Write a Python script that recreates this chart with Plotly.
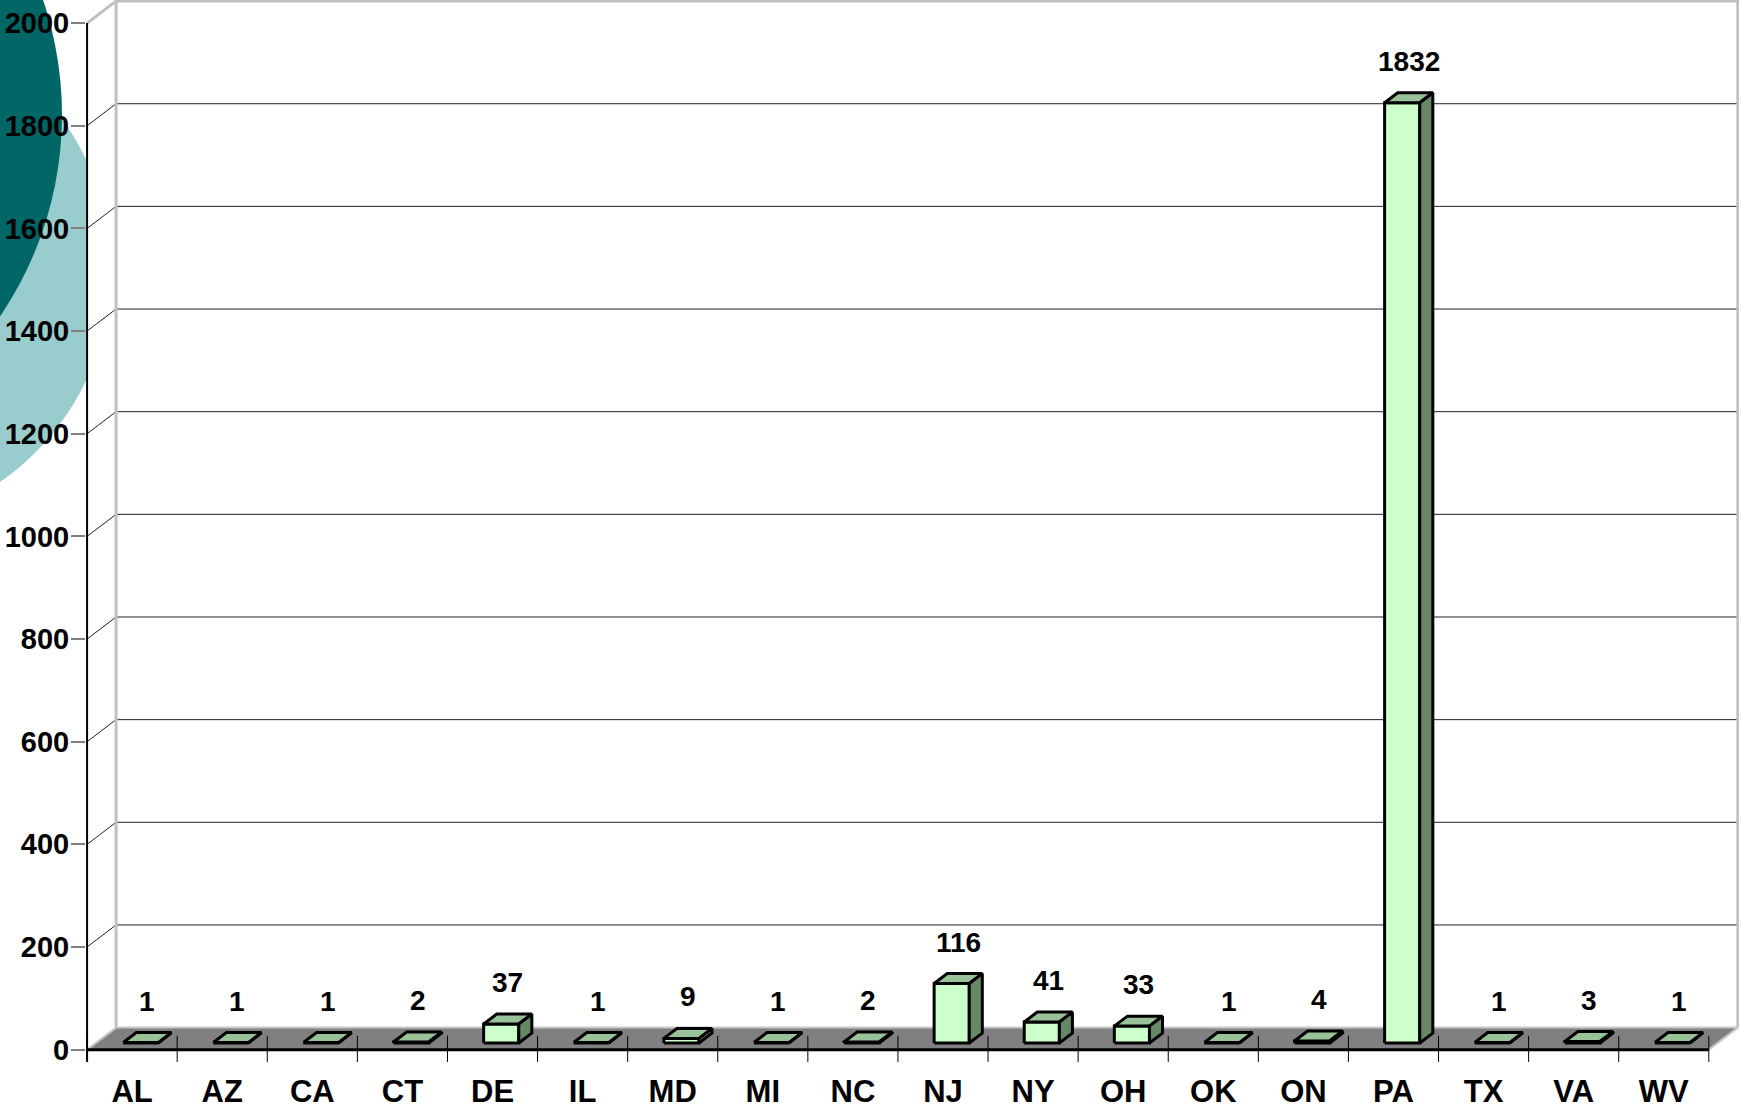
import plotly.graph_objects as go

# data
states = ["AL", "AZ", "CA", "CT", "DE", "IL", "MD", "MI", "NC",
          "NJ", "NY", "OH", "OK", "ON", "PA", "TX", "VA", "WV"]
counts = [1, 1, 1, 2, 37, 1, 9, 1, 2, 116, 41, 33, 1, 4, 1832, 1, 3, 1]
y_ticks = [0, 200, 400, 600, 800, 1000, 1200, 1400, 1600, 1800, 2000]

# fake 3-D: depth of the floor in axis units
DX, DY = 0.322, 42.9
F0, F1 = 0.30, 0.75      # bar position inside the depth
BAR_W = 0.39
N = len(states)
YMAX = y_ticks[-1]

FRONT = "#CCFFCC"
TOP = "#99C299"
SIDE = "#668866"
FONT = "Liberation Sans, Arial, sans-serif"

W, H = 1741, 1112
ML, MR, MT, MB = 86, 2, 0, 48

fig = go.Figure()


def poly(xs, ys, fill, line_color="black", line_width=3):
    fig.add_trace(go.Scatter(
        x=xs + [xs[0]], y=ys + [ys[0]], mode="lines", fill="toself",
        fillcolor=fill, line=dict(color=line_color, width=line_width),
        hoverinfo="skip", showlegend=False))


def lines(xs, ys, color, width):
    fig.add_trace(go.Scatter(x=xs, y=ys, mode="lines",
                             line=dict(color=color, width=width),
                             hoverinfo="skip", showlegend=False))


# back wall grid + diagonal connectors
gx, gy = [], []
for v in y_ticks[1:-1]:
    gx += [0, DX, N + DX, None]
    gy += [v, v + DY, v + DY, None]
gx += [0, DX, None]
gy += [YMAX, YMAX + DY, None]
lines(gx, gy, "#202020", 1)

# wall border (light grey)
lines([0, DX, N + DX, N + DX], [YMAX, YMAX + DY, YMAX + DY, DY], "#C0C0C0", 3)
lines([DX, DX], [DY, YMAX + DY], "#C0C0C0", 3)

# floor
poly([0, N, N + DX, DX], [0, 0, DY, DY], "#808080", line_color="#808080", line_width=0.1)
lines([0, DX, N + DX, N], [0, DY, DY, 0], "#C8C8C8", 2)
lines([0, N], [0, 0], "black", 3)

# category ticks
tx, ty = [], []
for i in range(N + 1):
    tx += [i, i, None]
    ty += [27, -24, None]
lines(tx, ty, "black", 1)

# front value axis
lines([0, 0], [-24, YMAX], "black", 2)

# bars
for i, v in enumerate(counts):
    x0 = i + 0.5 - BAR_W / 2 + F0 * DX
    x1 = x0 + BAR_W
    b = F0 * DY
    ddx = (F1 - F0) * DX
    ddy = (F1 - F0) * DY
    poly([x0, x1, x1, x0], [b, b, b + v, b + v], FRONT)
    poly([x0, x1, x1 + ddx, x0 + ddx], [b + v, b + v, b + v + ddy, b + v + ddy], TOP)
    poly([x1, x1 + ddx, x1 + ddx, x1], [b, b + ddy, b + v + ddy, b + v], SIDE)
    fig.add_annotation(
        x=i + 0.5 + (F0 + F1) / 2 * DX, y=v + F1 * DY, text=str(v),
        showarrow=False, yanchor="bottom", yshift=14,
        font=dict(family=FONT, size=28, color="black", weight="bold"))

# decorative circles behind the chart
pw, ph = W - ML - MR, H - MT - MB


def px_circle(cx, cy, r, color):
    fig.add_shape(type="circle", xref="paper", yref="paper", layer="below",
                  x0=(cx - r - ML) / pw, x1=(cx + r - ML) / pw,
                  y0=1 - (cy + r - MT) / ph, y1=1 - (cy - r - MT) / ph,
                  fillcolor=color, line=dict(width=0))


px_circle(-147, 270, 258, "#99CCCC")
px_circle(-296, 115, 358, "#006666")
fig.add_shape(type="rect", xref="paper", yref="paper", layer="below",
              x0=0, x1=1, y0=0, y1=1, fillcolor="white", line=dict(width=0))

fig.update_layout(
    width=W, height=H,
    margin=dict(l=ML, r=MR, t=MT, b=MB),
    paper_bgcolor="white", plot_bgcolor="white",
    showlegend=False,
    xaxis=dict(range=[-0.012, N + 0.335], tickvals=[i + 0.5 for i in range(N)],
               ticktext=states, ticks="", showgrid=False, zeroline=False,
               showline=False, ticklabelstandoff=6,
               tickfont=dict(family=FONT, size=31, color="black", weight="bold")),
    yaxis=dict(range=[-28, YMAX + 45], tickvals=y_ticks, ticks="outside",
               ticklen=14, tickwidth=2, tickcolor="#808080", showgrid=False,
               zeroline=False, showline=False, ticklabelstandoff=-4,
               tickfont=dict(family=FONT, size=29, color="black", weight="bold")),
)

# page body has a default margin; drop it so the figure sits at 0,0
fig.write_html("out.html", config={"displayModeBar": False},
               post_script="document.body.style.margin='0';")
